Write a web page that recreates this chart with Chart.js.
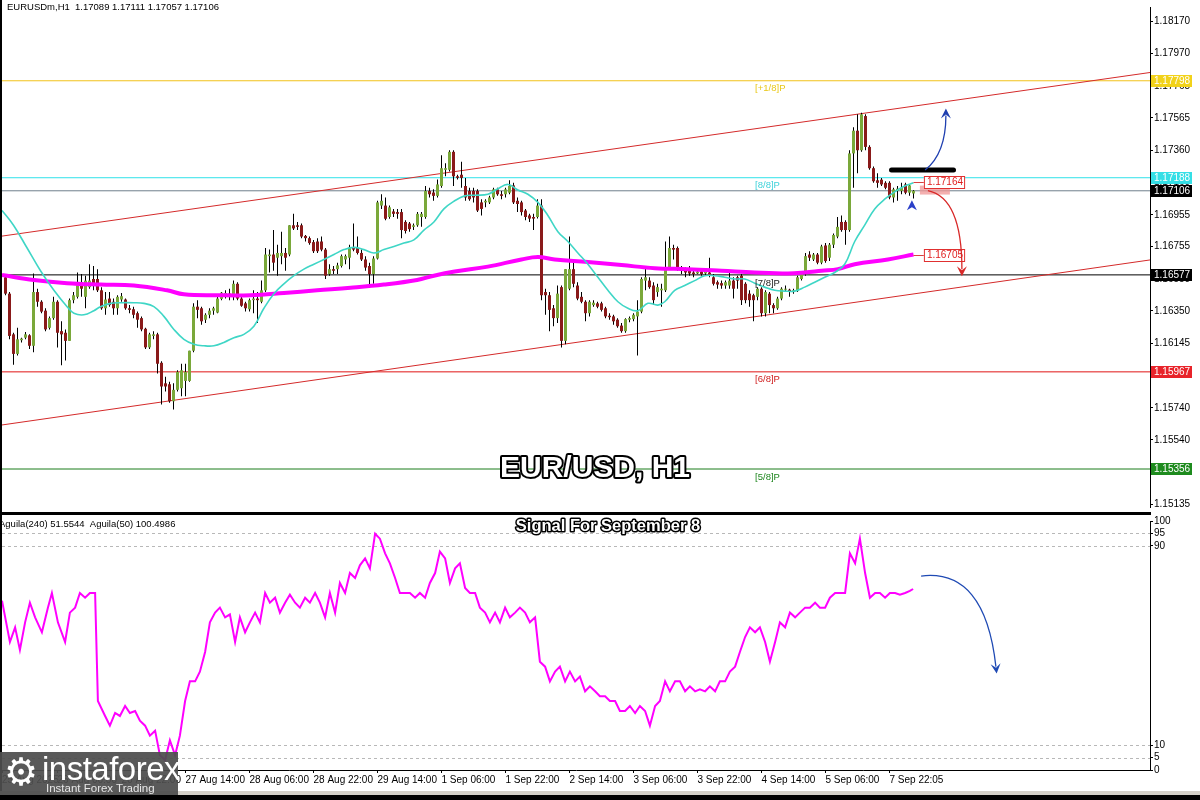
<!DOCTYPE html>
<html>
<head>
<meta charset="utf-8">
<title>EUR/USD H1</title>
<script src="https://cdn.jsdelivr.net/npm/chart.js@4.4.1/dist/chart.umd.min.js"></script>
<style>
  body { margin:0; width:1200px; height:800px; overflow:hidden; background:#fff; position:relative; font-family:"Liberation Sans", Arial, sans-serif; }
  canvas { position:absolute; left:0; }
  #priceCanvas { top:0; }
  #oscCanvas { top:514px; }
  .blk { position:absolute; background:#000; }
  #logo { position:absolute; left:0; top:752px; width:178px; height:43px; background:rgba(78,78,78,0.93); color:#fff; overflow:hidden; }
  #logo .gear { position:absolute; left:4px; top:-2px; font-size:38px; line-height:44px; font-family:"DejaVu Sans"; }
  #logo .brand { position:absolute; left:42px; top:0px; font-size:33px; line-height:34px; letter-spacing:-0.5px; }
  #logo .tag { position:absolute; left:46px; top:30px; font-size:11.5px; color:#e8e8e8; }
</style>
</head>
<body>
<canvas id="priceCanvas" width="1200" height="514"></canvas>
<canvas id="oscCanvas" width="1200" height="277"></canvas>
<div class="blk" style="left:0;top:0;width:2px;height:800px"></div>
<div class="blk" style="left:0;top:512px;width:1151px;height:3px"></div>
<div style="position:absolute;left:0;top:791px;width:1200px;height:4px;background:#d4d0c8"></div>
<div class="blk" style="left:0;top:795px;width:1200px;height:5px"></div>
<div id="logo"><span class="gear">&#9881;</span><span class="brand">instaforex</span><span class="tag">Instant Forex Trading</span></div>

<script>
// ---- candles, EURUSDm H1 (bar 0 = leftmost) ----
const openP = [
  1.16562,1.16459,1.16203,1.16080,1.16166,1.16182,1.16197,1.16131,1.16469,1.16408,
  1.16352,1.16244,1.16305,1.16408,1.16223,1.16213,1.16162,1.16418,1.16439,1.16531,
  1.16439,1.16500,1.16551,1.16551,1.16480,1.16367,1.16428,1.16408,1.16367,1.16422,
  1.16422,1.16367,1.16361,1.16336,1.16305,1.16238,1.16121,1.16193,1.16203,1.16024,
  1.15895,1.15889,1.15782,1.15854,1.15864,1.15910,1.15910,1.16100,1.16377,1.16367,
  1.16295,1.16326,1.16352,1.16340,1.16426,1.16449,1.16459,1.16439,1.16521,1.16428,
  1.16398,1.16361,1.16418,1.16428,1.16408,1.16480,1.16695,1.16705,1.16685,1.16695,
  1.16715,1.16705,1.16889,1.16889,1.16889,1.16822,1.16808,1.16783,1.16787,1.16787,
  1.16736,1.16582,1.16613,1.16613,1.16633,1.16674,1.16685,1.16746,1.16746,1.16715,
  1.16674,1.16633,1.16582,1.16680,1.17013,1.17013,1.16941,1.16976,1.16972,1.16972,
  1.16910,1.16900,1.16879,1.16889,1.16941,1.16941,1.17105,1.17095,1.17074,1.17136,
  1.17238,1.17238,1.17351,1.17197,1.17207,1.17136,1.17105,1.17105,1.17105,1.17033,
  1.17033,1.17033,1.17064,1.17115,1.17084,1.17084,1.17094,1.17140,1.17043,1.17033,
  1.16982,1.16951,1.16941,1.16941,1.17013,1.16469,1.16449,1.16367,1.16305,1.16500,
  1.16162,1.16490,1.16613,1.16510,1.16439,1.16408,1.16336,1.16387,1.16398,1.16398,
  1.16367,1.16320,1.16316,1.16295,1.16258,1.16223,1.16295,1.16299,1.16316,1.16346,
  1.16541,1.16541,1.16510,1.16469,1.16480,1.16480,1.16623,1.16746,1.16746,1.16623,
  1.16607,1.16603,1.16592,1.16586,1.16598,1.16586,1.16592,1.16562,1.16531,1.16525,
  1.16510,1.16510,1.16541,1.16562,1.16572,1.16521,1.16459,1.16449,1.16439,1.16490,
  1.16336,1.16459,1.16387,1.16367,1.16428,1.16484,1.16484,1.16469,1.16475,1.16551,
  1.16582,1.16705,1.16674,1.16705,1.16654,1.16762,1.16685,1.16767,1.16818,1.16910,
  1.16910,1.16859,1.17341,1.17484,1.17361,1.17576,1.17382,1.17248,1.17172,1.17176,
  1.17156,1.17156,1.17064,1.17105,1.17105,1.17146,1.17094,1.17089
];
const highP = [
  1.16582,1.16469,1.16213,1.16244,1.16182,1.16217,1.16203,1.16586,1.16490,1.16418,
  1.16367,1.16316,1.16439,1.16418,1.16285,1.16234,1.16428,1.16469,1.16592,1.16582,
  1.16572,1.16644,1.16633,1.16613,1.16500,1.16469,1.16469,1.16428,1.16449,1.16463,
  1.16428,1.16387,1.16377,1.16346,1.16316,1.16244,1.16213,1.16223,1.16213,1.16033,
  1.15936,1.15905,1.15895,1.15977,1.16018,1.16018,1.16100,1.16398,1.16418,1.16377,
  1.16336,1.16367,1.16377,1.16439,1.16469,1.16480,1.16490,1.16541,1.16531,1.16439,
  1.16408,1.16428,1.16480,1.16469,1.16541,1.16746,1.16736,1.16859,1.16767,1.16849,
  1.16746,1.16889,1.16961,1.16910,1.16900,1.16828,1.16818,1.16797,1.16808,1.16818,
  1.16746,1.16644,1.16633,1.16654,1.16705,1.16705,1.16767,1.16900,1.16818,1.16736,
  1.16695,1.16654,1.16695,1.17043,1.17084,1.17064,1.17013,1.16992,1.16992,1.16992,
  1.16920,1.16910,1.16900,1.16972,1.16972,1.17136,1.17125,1.17115,1.17177,1.17330,
  1.17279,1.17361,1.17361,1.17207,1.17289,1.17187,1.17125,1.17125,1.17115,1.17053,
  1.17053,1.17074,1.17125,1.17125,1.17105,1.17125,1.17172,1.17156,1.17064,1.17043,
  1.16992,1.16961,1.16961,1.17053,1.17053,1.16490,1.16469,1.16387,1.16510,1.16510,
  1.16613,1.16818,1.16664,1.16531,1.16469,1.16418,1.16418,1.16418,1.16408,1.16408,
  1.16377,1.16336,1.16326,1.16305,1.16275,1.16305,1.16316,1.16336,1.16418,1.16562,
  1.16633,1.16562,1.16531,1.16521,1.16521,1.16787,1.16818,1.16767,1.16756,1.16633,
  1.16623,1.16633,1.16603,1.16613,1.16613,1.16613,1.16685,1.16582,1.16541,1.16541,
  1.16541,1.16592,1.16562,1.16572,1.16582,1.16531,1.16480,1.16459,1.16500,1.16500,
  1.16480,1.16469,1.16398,1.16439,1.16500,1.16510,1.16490,1.16490,1.16572,1.16592,
  1.16715,1.16726,1.16715,1.16715,1.16767,1.16777,1.16777,1.16838,1.16941,1.16951,
  1.16920,1.17361,1.17505,1.17587,1.17597,1.17587,1.17392,1.17258,1.17217,1.17187,
  1.17166,1.17166,1.17125,1.17136,1.17156,1.17156,1.17146,1.17111
];
const lowP = [
  1.16449,1.16172,1.16012,1.16070,1.16152,1.16172,1.16111,1.16090,1.16377,1.16336,
  1.16223,1.16234,1.16295,1.16121,1.16008,1.16039,1.16162,1.16398,1.16428,1.16439,
  1.16367,1.16490,1.16480,1.16469,1.16357,1.16326,1.16377,1.16326,1.16326,1.16408,
  1.16357,1.16336,1.16305,1.16244,1.16223,1.16111,1.16111,1.16172,1.15957,1.15762,
  1.15844,1.15772,1.15731,1.15844,1.15813,1.15813,1.15905,1.16090,1.16305,1.16264,
  1.16275,1.16305,1.16326,1.16336,1.16418,1.16428,1.16418,1.16418,1.16418,1.16377,
  1.16346,1.16346,1.16336,1.16275,1.16398,1.16469,1.16592,1.16603,1.16572,1.16644,
  1.16603,1.16695,1.16859,1.16859,1.16808,1.16787,1.16767,1.16715,1.16715,1.16726,
  1.16551,1.16572,1.16582,1.16582,1.16623,1.16644,1.16613,1.16726,1.16705,1.16664,
  1.16603,1.16500,1.16521,1.16674,1.16992,1.16920,1.16930,1.16941,1.16930,1.16808,
  1.16838,1.16849,1.16859,1.16879,1.16879,1.16930,1.17064,1.17043,1.17064,1.17125,
  1.17197,1.17228,1.17136,1.17177,1.17125,1.17043,1.17043,1.17033,1.16972,1.16951,
  1.17002,1.17023,1.17053,1.17074,1.17053,1.17064,1.17084,1.17023,1.16972,1.16951,
  1.16920,1.16910,1.16859,1.16931,1.16418,1.16326,1.16223,1.16254,1.16275,1.16121,
  1.16141,1.16480,1.16500,1.16418,1.16398,1.16285,1.16316,1.16377,1.16367,1.16346,
  1.16305,1.16295,1.16264,1.16244,1.16213,1.16213,1.16279,1.16285,1.16070,1.16336,
  1.16480,1.16490,1.16387,1.16439,1.16377,1.16469,1.16613,1.16674,1.16603,1.16582,
  1.16562,1.16572,1.16562,1.16582,1.16572,1.16572,1.16562,1.16510,1.16490,1.16490,
  1.16490,1.16490,1.16428,1.16490,1.16387,1.16398,1.16377,1.16285,1.16418,1.16316,
  1.16316,1.16336,1.16336,1.16357,1.16418,1.16469,1.16439,1.16459,1.16469,1.16541,
  1.16572,1.16664,1.16664,1.16644,1.16644,1.16654,1.16664,1.16746,1.16808,1.16849,
  1.16767,1.16849,1.17125,1.17217,1.17351,1.17361,1.17238,1.17156,1.17125,1.17136,
  1.17115,1.17053,1.17033,1.17043,1.17084,1.17084,1.17074,1.17057
];
const closeP = [
  1.16459,1.16193,1.16080,1.16172,1.16176,1.16203,1.16131,1.16469,1.16408,1.16346,
  1.16234,1.16305,1.16408,1.16213,1.16203,1.16162,1.16418,1.16449,1.16531,1.16490,
  1.16541,1.16541,1.16521,1.16480,1.16367,1.16422,1.16387,1.16367,1.16439,1.16443,
  1.16367,1.16357,1.16326,1.16295,1.16234,1.16121,1.16203,1.16203,1.16018,1.15875,
  1.15875,1.15782,1.15854,1.15967,1.15977,1.15967,1.16100,1.16377,1.16357,1.16285,
  1.16326,1.16352,1.16367,1.16428,1.16465,1.16463,1.16443,1.16521,1.16428,1.16383,
  1.16367,1.16418,1.16428,1.16418,1.16480,1.16705,1.16705,1.16654,1.16715,1.16715,
  1.16685,1.16889,1.16869,1.16879,1.16818,1.16808,1.16777,1.16726,1.16726,1.16736,
  1.16572,1.16613,1.16603,1.16637,1.16695,1.16695,1.16750,1.16736,1.16715,1.16674,
  1.16623,1.16582,1.16680,1.17033,1.17043,1.16930,1.17002,1.16961,1.16961,1.16859,
  1.16853,1.16865,1.16889,1.16961,1.16961,1.17105,1.17084,1.17074,1.17146,1.17248,
  1.17248,1.17351,1.17197,1.17187,1.17187,1.17064,1.17053,1.17064,1.16982,1.16992,
  1.17043,1.17064,1.17115,1.17084,1.17074,1.17115,1.17136,1.17033,1.17023,1.16972,
  1.16941,1.16931,1.16931,1.17013,1.16449,1.16449,1.16357,1.16305,1.16459,1.16162,
  1.16613,1.16613,1.16521,1.16428,1.16408,1.16336,1.16408,1.16402,1.16377,1.16357,
  1.16316,1.16311,1.16285,1.16254,1.16223,1.16299,1.16305,1.16326,1.16346,1.16551,
  1.16562,1.16500,1.16418,1.16500,1.16490,1.16623,1.16746,1.16736,1.16623,1.16603,
  1.16592,1.16586,1.16582,1.16598,1.16582,1.16603,1.16572,1.16521,1.16516,1.16510,
  1.16531,1.16541,1.16490,1.16541,1.16418,1.16418,1.16418,1.16418,1.16490,1.16336,
  1.16469,1.16387,1.16367,1.16428,1.16490,1.16490,1.16475,1.16480,1.16562,1.16582,
  1.16695,1.16685,1.16705,1.16654,1.16756,1.16664,1.16767,1.16828,1.16879,1.16859,
  1.16859,1.17341,1.17484,1.17361,1.17587,1.17382,1.17248,1.17166,1.17156,1.17146,
  1.17125,1.17064,1.17115,1.17119,1.17125,1.17094,1.17140,1.17106
];

const maFastIdx = [-0.875,2,5.4,8.75,12.1,15.4,17.1,19.6,22.1,23.75,26.25,28.75,32.1,34.6,37.1,39.6,42.1,44.6,47.1,49.6,
  52.1,54.6,57.1,59.6,62.1,64.6,67.1,69.6,72.1,74.6,77.1,79.6,82.1,84.6,87.1,89.6,92.1,94.6,97.1,99.6,
  102.1,104.6,107.1,109.6,112.3,114.8,117.3,120.6,123.1,125.6,128.1,130.6,133.1,135.6,138.1,140.6,143.1,145.6,148.1,150.6,
  153.1,155.6,158.1,160.6,163.1,164.8,167.3,169.8,172.3,174.8,177.3,179.8,182.3,184.8,187.3,189.8,192.3,194.8,197.3,199.8,
  202.3,204.8,207.3,209.8,212.3,214.8,217.3,219.8,222.3,224.8,227];
const maFastVal = [1.16982,1.16889,1.16746,1.16603,1.16480,1.16377,1.16336,1.16326,1.16352,1.16377,1.16398,1.16402,1.16402,1.16398,1.16377,1.16316,1.16234,1.16172,1.16141,1.16131,
  1.16131,1.16152,1.16182,1.16203,1.16254,1.16367,1.16459,1.16521,1.16572,1.16613,1.16644,1.16674,1.16705,1.16736,1.16750,1.16736,1.16715,1.16736,1.16756,1.16777,
  1.16797,1.16859,1.16910,1.16992,1.17043,1.17074,1.17078,1.17084,1.17119,1.17146,1.17111,1.17084,1.17033,1.16951,1.16849,1.16787,1.16715,1.16644,1.16562,1.16480,
  1.16408,1.16367,1.16352,1.16398,1.16387,1.16408,1.16480,1.16510,1.16541,1.16572,1.16572,1.16562,1.16551,1.16551,1.16525,1.16500,1.16480,1.16475,1.16475,1.16500,
  1.16531,1.16562,1.16592,1.16644,1.16787,1.16890,1.16992,1.17053,1.17099,1.17136,1.17156];
const maSlowIdx = [-0.875,7.1,15.4,23.75,32.1,40.4,44.6,52.9,61.25,69.6,77.9,86.25,94.6,102.9,107.1,
  112.3,120.6,129,133.1,137.3,145.6,154,162.3,170.6,179,187.3,195.6,199.8,204,208.1,212.3,220.6,227];
const maSlowVal = [1.16576,1.16545,1.16525,1.16516,1.16510,1.16480,1.16455,1.16449,1.16449,1.16463,1.16480,1.16496,1.16516,1.16545,1.16572,
  1.16598,1.16629,1.16674,1.16689,1.16674,1.16658,1.16639,1.16619,1.16613,1.16603,1.16592,1.16586,1.16592,1.16603,1.16613,1.16644,1.16674,1.16705];

// Murrey levels and current price
const levelValues = [1.17798, 1.17188, 1.16577, 1.15967, 1.15356];
const levelNames  = ['[+1/8]P', '[8/8]P', '[7/8]P', '[6/8]P', '[5/8]P'];
const lastPrice = 1.17106;
const headerQuote = ['1.17089', '1.17111', '1.17057', '1.17106'];
// channel (bar index, price) end points
const channelUpper = [[-0.875, 1.16821], [286.125, 1.17850]];
const channelLower = [[-0.875, 1.15633], [286.125, 1.16671]];
const targetUp = 1.17164;
const targetDown = 1.16705;

const priceTicks = [1.15135,1.15335,1.15540,1.15740,1.15945,1.16145,1.16350,1.16550,1.16755,1.16955,
  1.17160,1.17360,1.17565,1.17765,1.17970,1.18170];

// oscillator
const oscIdx = [-0.875,1.1,2.4,3.6,4.9,6.1,7.4,9.1,10.6,11.6,
  13.1,14.9,16.1,17.4,18.6,19.9,21.1,22.4,23.1,24.9,
  26.1,27.4,28.6,29.9,31.1,32.4,33.6,34.9,36.1,37.4,
  38.6,39.9,41.1,42.4,43.6,44.9,46.1,47.4,48.6,49.9,
  51.1,52.4,53.6,54.9,56.1,57.4,58.6,59.9,61.1,62.4,
  63.6,64.9,66.1,67.4,68.6,69.9,71.1,72.4,73.6,74.9,
  76.1,77.4,78.6,79.9,81.1,82.4,83.6,84.9,86.1,87.4,
  88.6,89.9,91.1,92.4,93.6,94.9,96.1,97.4,98.6,99.9,
  101.1,102.4,103.6,104.9,106.1,107.4,108.6,109.9,111.1,112.4,
  113.6,114.9,116.1,117.4,118.6,119.9,121.1,122.4,123.6,124.9,
  126.1,127.4,128.6,129.9,131.1,132.4,133.6,134.9,136.1,137.4,
  138.6,139.9,141.1,142.4,143.6,144.9,146.1,147.4,148.6,149.9,
  151.1,152.4,153.6,154.9,156.1,157.4,158.6,159.9,161.1,162.4,
  163.6,164.9,166.1,167.4,168.6,169.9,171.1,172.4,173.6,174.9,
  176.1,177.4,178.6,179.9,181.1,182.4,183.6,184.9,186.1,187.4,
  188.6,189.9,191.1,192.4,193.6,194.9,196.1,197.4,198.6,199.9,
  201.1,202.4,203.6,204.9,206.1,207.4,208.6,209.9,211.1,212.4,
  213.6,214.9,216.1,217.4,218.6,219.9,221.1,222.4,223.6,224.9,
  226.1,226.9];
const oscVal = [68.0,51.4,57.3,48.2,59.3,67.2,61.3,55.3,65.2,71.1,
  59.3,51.4,63.2,65.2,71.1,69.2,71.1,71.1,27.7,21.7,
  17.8,22.9,21.7,25.7,22.9,23.7,19.8,17.8,13.8,15.8,
  5.9,4.0,11.9,5.9,13.8,27.7,35.6,35.6,39.5,47.4,
  59.3,63.2,65.2,61.3,62.5,51.4,61.3,55.3,59.3,63.2,
  59.3,71.1,67.2,69.2,63.2,67.2,70.4,67.2,65.2,69.2,
  67.2,71.1,67.2,61.3,71.1,63.2,75.1,71.1,79.1,77.1,
  82.2,85.0,81.0,94.9,92.9,87.0,83.0,77.1,71.1,71.1,
  71.1,69.2,71.1,69.2,75.1,79.1,87.7,85.0,75.1,81.0,
  83.0,73.1,71.1,71.1,65.2,63.2,59.3,63.2,59.3,65.2,
  61.3,63.2,65.2,63.2,59.3,61.3,43.5,41.5,35.6,39.5,
  41.5,35.6,39.5,35.6,37.5,31.6,33.6,31.6,29.6,29.6,
  27.7,27.7,23.7,23.7,25.7,22.9,25.7,23.7,17.8,25.7,
  27.7,35.6,31.6,35.6,35.6,31.6,33.6,31.6,32.4,31.6,
  33.6,31.6,35.6,35.6,39.5,41.5,47.4,53.4,57.3,55.3,
  57.3,51.4,43.5,51.4,59.3,57.3,63.2,61.3,63.2,65.2,
  65.2,67.2,65.2,65.2,69.2,71.1,71.1,71.1,87.0,83.0,
  92.9,79.1,69.2,71.1,71.1,69.2,71.1,71.1,70.4,71.1,
  71.9,72.7];
const oscTicks = [0, 5, 10, 90, 95, 100];
const oscGuides = [5, 10, 90, 95];

// time axis
const timeTickIdx = [-0.875, 13, 29, 45, 61, 77, 93, 109, 125, 141, 157, 173, 189, 205, 221];
const timeTickLabels = ['25 Aug 2025','26 Aug 06:00','26 Aug 22:00','27 Aug 14:00','28 Aug 06:00','28 Aug 22:00',
  '29 Aug 14:00','1 Sep 06:00','1 Sep 22:00','2 Sep 14:00','3 Sep 06:00','3 Sep 22:00','4 Sep 14:00','5 Sep 06:00','7 Sep 22:05'];

// ---- styles ----
const X_MIN = -0.875, X_MAX = 286.125;
const UP = '#7aa83a', DOWN = '#8a1a1a';
const levelColors = ['#f2c21a', '#2fe2ea', '#000000', '#e01414', '#1b7d1b'];
const tagColors   = ['#e9c81a', '#3fd2da', '#222222', '#d02020', '#1f861f'];
const axisBox = { bg: ['#f2d21a', '#35dfe6', '#000000', '#e8232a', '#1e8b1e'], last: '#000000' };
const TAG_IDX = 187.4;

Chart.defaults.font.family = '"Liberation Sans", Arial, sans-serif';
Chart.defaults.font.size = 10;
Chart.defaults.color = '#000';

const bars = openP.map((_, i) => i);
const wickData = bars.map(i => ({ x: i, y: [lowP[i], highP[i]] }));
const bodyData = bars.map(i => ({ x: i, y: [openP[i], closeP[i]] }));
const bodyColors = bars.map(i => closeP[i] >= openP[i] ? UP : DOWN);
const pts = (xs, ys) => xs.map((x, k) => ({ x: x, y: ys[k] }));
const flat = v => [{ x: X_MIN, y: v }, { x: X_MAX, y: v }];

function arrowHead(ctx, tip, from, color, len, half) {
  const a = Math.atan2(tip[1] - from[1], tip[0] - from[0]);
  const c = Math.cos(a), s = Math.sin(a);
  ctx.fillStyle = color;
  ctx.beginPath();
  ctx.moveTo(tip[0], tip[1]);
  ctx.lineTo(tip[0] - c * len - s * half, tip[1] - s * len + c * half);
  ctx.lineTo(tip[0] - c * len * 0.6, tip[1] - s * len * 0.6);
  ctx.lineTo(tip[0] - c * len + s * half, tip[1] - s * len - c * half);
  ctx.closePath();
  ctx.fill();
}

function curve(ctx, x, y, p0, c, p1, color, w, headLen) {
  const A = [x.getPixelForValue(p0[0]), y.getPixelForValue(p0[1])];
  const C = [x.getPixelForValue(c[0]), y.getPixelForValue(c[1])];
  const B = [x.getPixelForValue(p1[0]), y.getPixelForValue(p1[1])];
  ctx.strokeStyle = color; ctx.lineWidth = w;
  ctx.beginPath(); ctx.moveTo(A[0], A[1]); ctx.quadraticCurveTo(C[0], C[1], B[0], B[1]); ctx.stroke();
  const a = Math.atan2(B[1] - C[1], B[0] - C[0]);
  const tip = [B[0] + Math.cos(a) * headLen * 0.7, B[1] + Math.sin(a) * headLen * 0.7];
  arrowHead(ctx, tip, B, color, headLen, headLen * 0.5);
}

function outlinedText(ctx, txt, cx, cy, font, lw) {
  ctx.font = font;
  ctx.textAlign = 'center'; ctx.textBaseline = 'middle';
  ctx.lineJoin = 'round';
  ctx.strokeStyle = '#000'; ctx.lineWidth = lw;
  ctx.strokeText(txt, cx, cy);
  ctx.fillStyle = '#fff';
  ctx.fillText(txt, cx, cy);
}

const priceDecor = {
  id: 'priceDecor',
  afterDraw(chart) {
    const { ctx, chartArea: a, scales: { x, y } } = chart;
    ctx.save();

    // level tags
    ctx.font = '9.5px "Liberation Sans"';
    ctx.textAlign = 'left'; ctx.textBaseline = 'middle';
    levelValues.forEach((v, k) => {
      ctx.fillStyle = tagColors[k];
      ctx.fillText(levelNames[k], x.getPixelForValue(TAG_IDX), y.getPixelForValue(v) + 8);
    });

    // header
    ctx.fillStyle = '#000';
    ctx.font = '9.5px "Liberation Sans"';
    ctx.fillText('EURUSDm,H1  ' + headerQuote.join(' '), 7, 7);

    // pink zone + connector lines to target boxes
    const lastX = x.getPixelForValue(bars.length - 1);
    const boxL = x.getPixelForValue(229.6), boxR = x.getPixelForValue(239.9);
    ctx.fillStyle = 'rgba(240,150,150,0.75)';
    const zTop = y.getPixelForValue(targetUp) + 4;
    ctx.fillRect(x.getPixelForValue(228.6), zTop, x.getPixelForValue(236.1) - x.getPixelForValue(228.6), 9);
    ctx.strokeStyle = '#d84040'; ctx.lineWidth = 1;
    [targetUp, targetDown].forEach(v => {
      const py = Math.round(y.getPixelForValue(v)) + 0.5;
      ctx.beginPath(); ctx.moveTo(lastX, py); ctx.lineTo(boxL, py); ctx.stroke();
    });
    [targetUp, targetDown].forEach(v => {
      const py = Math.round(y.getPixelForValue(v));
      ctx.fillStyle = '#fff';
      ctx.fillRect(boxL, py - 6, boxR - boxL, 13);
      ctx.strokeStyle = '#e03030';
      ctx.strokeRect(boxL + 0.5, py - 5.5, boxR - boxL - 1, 12);
      ctx.fillStyle = '#e02020';
      ctx.font = '10px "Liberation Sans"';
      ctx.textAlign = 'left'; ctx.textBaseline = 'middle';
      ctx.fillText(v.toFixed(5), boxL + 3, py + 0.5);
    });

    // black resistance bar
    ctx.strokeStyle = '#000'; ctx.lineWidth = 5; ctx.lineCap = 'round';
    const by = y.getPixelForValue(1.17236);
    ctx.beginPath(); ctx.moveTo(x.getPixelForValue(221.5), by); ctx.lineTo(x.getPixelForValue(237), by); ctx.stroke();
    ctx.lineCap = 'butt';

    // scenario arrows
    curve(ctx, x, y, [229.9, 1.17236], [235.1, 1.17341], [235.1, 1.17580], '#1f3fb0', 1.3, 10);
    curve(ctx, x, y, [230.6, 1.17107], [239.1, 1.17062], [239.1, 1.16612], '#d82828', 1.3, 10);

    // small buy arrow under the last bars
    const ax = x.getPixelForValue(226.6), ay = y.getPixelForValue(1.17009);
    ctx.fillStyle = '#2a3fc8';
    ctx.beginPath();
    ctx.moveTo(ax, ay - 6); ctx.lineTo(ax + 5, ay + 4); ctx.lineTo(ax, ay + 1); ctx.lineTo(ax - 5, ay + 4);
    ctx.closePath(); ctx.fill();

    // title
    outlinedText(ctx, 'EUR/USD, H1', 595, 469, 'bold 30px "Liberation Sans"', 4);

    // axis value boxes
    ctx.font = '10px "Liberation Sans"';
    ctx.textAlign = 'left'; ctx.textBaseline = 'middle';
    const boxes = levelValues.map((v, k) => [v, axisBox.bg[k]]);
    boxes.splice(2, 0, [lastPrice, axisBox.last]);
    boxes.forEach(([v, bg]) => {
      const py = Math.round(y.getPixelForValue(v));
      ctx.fillStyle = bg;
      ctx.fillRect(a.right + 1, py - 6, 41, 12);
      ctx.fillStyle = '#fff';
      ctx.fillText(v.toFixed(5), a.right + 4, py + 0.5);
    });
    ctx.restore();
  }
};

const priceChart = new Chart(document.getElementById('priceCanvas'), {
  type: 'bar',
  data: {
    datasets: [
      { type: 'line', data: pts(maFastIdx, maFastVal), borderColor: '#3fd6c6', borderWidth: 1.6, pointRadius: 0, tension: 0.4 },
      { type: 'line', data: pts(maSlowIdx, maSlowVal), borderColor: '#ff00ff', borderWidth: 4, pointRadius: 0, tension: 0.4 },
      { data: bodyData, backgroundColor: bodyColors, borderWidth: 0, borderSkipped: false,
        barThickness: 3, grouped: false, inflateAmount: 0 },
      { data: wickData, backgroundColor: '#000', borderWidth: 0, barThickness: 1, grouped: false, inflateAmount: 0 },
      { type: 'line', data: pts(channelUpper.map(p => p[0]), channelUpper.map(p => p[1])), borderColor: '#d42a2a', borderWidth: 1, pointRadius: 0 },
      { type: 'line', data: pts(channelLower.map(p => p[0]), channelLower.map(p => p[1])), borderColor: '#d42a2a', borderWidth: 1, pointRadius: 0 },
      { type: 'line', data: flat(lastPrice), borderColor: '#6f7f8c', borderWidth: 1, pointRadius: 0 },
      ...levelValues.map((v, k) => ({ type: 'line', data: flat(v), borderColor: levelColors[k], borderWidth: 1, pointRadius: 0 }))
    ]
  },
  options: {
    responsive: false, animation: false, events: [],
    layout: { padding: { left: 2, right: 0, top: 0, bottom: 2 } },
    plugins: { legend: { display: false }, tooltip: { enabled: false } },
    scales: {
      x: { type: 'linear', min: X_MIN, max: X_MAX, offset: false, display: false },
      y: {
        position: 'right', min: 1.15117, max: 1.18262,
        afterBuildTicks: s => { s.ticks = priceTicks.map(v => ({ value: v })); },
        afterFit: s => { s.width = 50; },
        ticks: { autoSkip: false, padding: 1, color: '#000', font: { size: 10 }, callback: v => v.toFixed(5) },
        grid: { drawOnChartArea: false, drawTicks: true, tickLength: 3, color: '#000' },
        border: { display: true, color: '#000' }
      }
    }
  },
  plugins: [priceDecor]
});

const oscDecor = {
  id: 'oscDecor',
  beforeDatasetsDraw(chart) {
    const { ctx, chartArea: a, scales: { y } } = chart;
    ctx.save();
    ctx.strokeStyle = '#b8b8b8'; ctx.lineWidth = 1; ctx.setLineDash([3, 3]);
    oscGuides.forEach(v => {
      const py = Math.round(y.getPixelForValue(v)) + 0.5;
      ctx.beginPath(); ctx.moveTo(a.left, py); ctx.lineTo(a.right, py); ctx.stroke();
    });
    ctx.restore();
  },
  afterDraw(chart) {
    const { ctx, scales: { x, y } } = chart;
    ctx.save();
    ctx.fillStyle = '#000';
    ctx.font = '9.5px "Liberation Sans"';
    ctx.textAlign = 'left'; ctx.textBaseline = 'middle';
    ctx.fillText('Aguila(240) 51.5544  Aguila(50) 100.4986', -1, 10);
    outlinedText(ctx, 'Signal For September 8', 608, 12, 'bold 16.5px "Liberation Sans"', 3);
    curve(ctx, x, y, [228.9, 77.9], [244.9, 81.0], [247.6, 41.5], '#1f4ab4', 1.3, 10);
    ctx.restore();
  }
};

const oscChart = new Chart(document.getElementById('oscCanvas'), {
  type: 'line',
  data: {
    datasets: [
      { data: pts(oscIdx, oscVal), borderColor: '#ff00ff', borderWidth: 2, pointRadius: 0, tension: 0 }
    ]
  },
  options: {
    responsive: false, animation: false, events: [],
    layout: { padding: { left: 2, right: 0, top: 3, bottom: 0 } },
    plugins: { legend: { display: false }, tooltip: { enabled: false } },
    scales: {
      x: {
        type: 'linear', min: X_MIN, max: X_MAX, offset: false,
        afterBuildTicks: s => { s.ticks = timeTickIdx.map(v => ({ value: v })); },
        afterFit: s => { s.height = 21; },
        ticks: { autoSkip: false, maxRotation: 0, align: 'start', padding: 1, color: '#000', font: { size: 10 },
          callback: (v, i) => timeTickLabels[i] },
        grid: { drawOnChartArea: false, drawTicks: true, tickLength: 3, color: '#000' },
        border: { display: true, color: '#000' }
      },
      y: {
        position: 'right', min: 0, max: 100,
        afterBuildTicks: s => { s.ticks = oscTicks.map(v => ({ value: v })); },
        afterFit: s => { s.width = 50; },
        ticks: { autoSkip: false, padding: 1, color: '#000', font: { size: 10 } },
        grid: { drawOnChartArea: false, drawTicks: true, tickLength: 3, color: '#000' },
        border: { display: true, color: '#000' }
      }
    }
  },
  plugins: [oscDecor]
});
</script>
</body>
</html>
